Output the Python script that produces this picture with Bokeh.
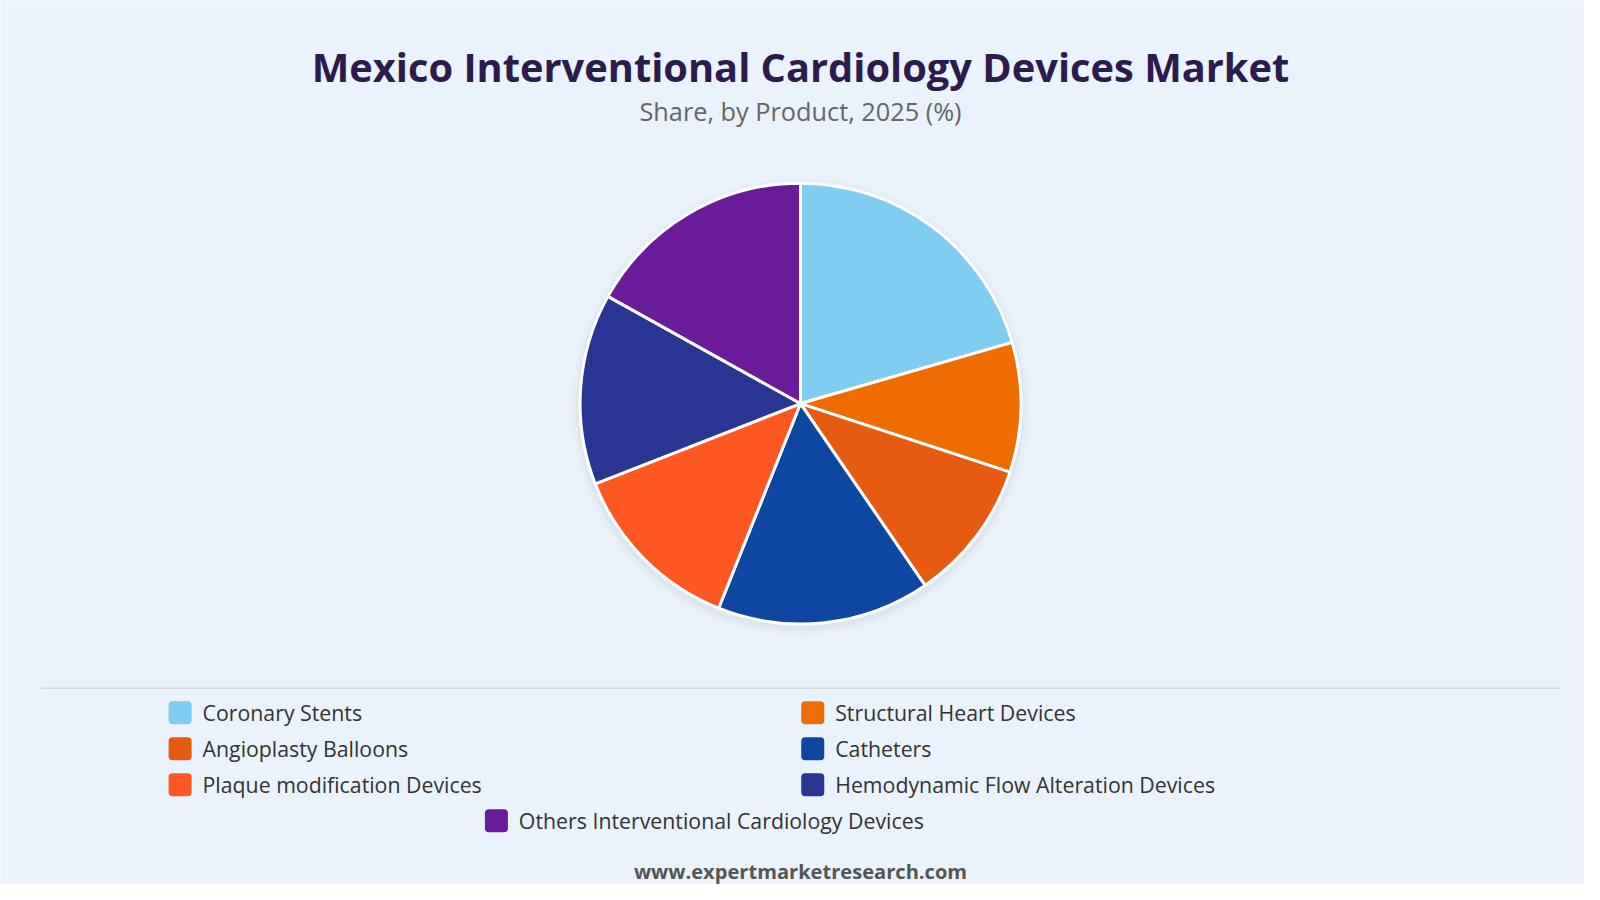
import numpy as np
from bokeh.plotting import figure
from bokeh.models import ColumnDataSource, Range1d
from bokeh.core.properties import value
from bokeh.embed import file_html
from bokeh.resources import INLINE

# data
products = ["Coronary Stents", "Structural Heart Devices", "Angioplasty Balloons", "Catheters",
            "Plaque modification Devices", "Hemodynamic Flow Alteration Devices",
            "Others Interventional Cardiology Devices"]
shares = [20.5, 9.5, 10.4, 15.6, 13.0, 14.0, 16.9]
colors = ["#7FCEF2", "#EF6C00", "#E65A12", "#0D47A1", "#FF5722", "#283593", "#6A1B9A"]

title = "Mexico Interventional Cardiology Devices Market"
subtitle = "Share, by Product, 2025 (%)"
footer = "www.expertmarketresearch.com"

BG = "#EAF2FB"
FONT = "Open Sans"

# layout is worked in a 1568 x 882 frame (the 1600 x 900 page at 0.98)
k = 0.98
W, H = 1584, 884
p = figure(width=W, height=H,
           x_range=Range1d(0, W * k), y_range=Range1d(-H * k, 0),
           output_backend="svg", toolbar_location=None, min_border=0)
p.axis.visible = False
p.grid.visible = False
p.outline_line_color = None
p.background_fill_color = BG
p.border_fill_color = BG

def Y(py):
    return -py

def px(s):
    return f"{s / k:.1f}px"

# pie wedges, clockwise from 12 o'clock
cx, cy, r = 784, Y(395), 216
frac = np.array(shares) / sum(shares)
ends = np.cumsum(frac)
starts = ends - frac
src = ColumnDataSource(dict(
    start=np.pi / 2 - starts * 2 * np.pi,
    end=np.pi / 2 - ends * 2 * np.pi,
    color=colors, name=products))

# soft shadow
for rr, a in [(224, 0.15), (220, 0.3)]:
    p.circle(cx, cy - 3, radius=rr, fill_color="#cdd6e2", fill_alpha=a, line_color=None)
p.wedge(x=cx, y=cy, radius=r, start_angle="start", end_angle="end", direction="clock",
        fill_color="color", line_color="white", line_width=3, source=src)

# titles
p.text(x=[784], y=[Y(65)], text=[title], text_font=value(FONT), text_font_style="bold",
       text_font_size=px(39), text_color="#2D1B4E", text_align="center", text_baseline="middle")
p.text(x=[784], y=[Y(108)], text=[subtitle], text_font=value(FONT),
       text_font_size=px(24.8), text_color="#666666", text_align="center", text_baseline="middle")
p.text(x=[784], y=[Y(854)], text=[footer], text_font=value(FONT), text_font_style="bold",
       text_font_size=px(19.7), text_color="#555555", text_align="center", text_baseline="middle")

# separator
p.segment(x0=40, y0=Y(674), x1=1528, y1=Y(674), line_color="#D3D8DF", line_width=1.5)

# legend, two columns, last item centred
lx, ly = [], []
for i in range(len(products)):
    if i == len(products) - 1 and len(products) % 2 == 1:
        lx.append(486)
    else:
        lx.append(176 + (i % 2) * 620)
    ly.append(Y(698 + (i // 2) * 35.3))
leg = ColumnDataSource(dict(x=lx, y=ly, tx=[v + 22 for v in lx], color=colors, name=products))
p.rect("x", "y", width=23, height=23, width_units="screen", height_units="screen",
       border_radius=4, fill_color="color", line_color=None, source=leg)
p.text("tx", "y", text="name", text_font=value(FONT), text_font_size=px(20.9), text_color="#333333",
       text_baseline="middle", source=leg)

html = file_html(p, INLINE)
open("out.html", "w").write(html)
